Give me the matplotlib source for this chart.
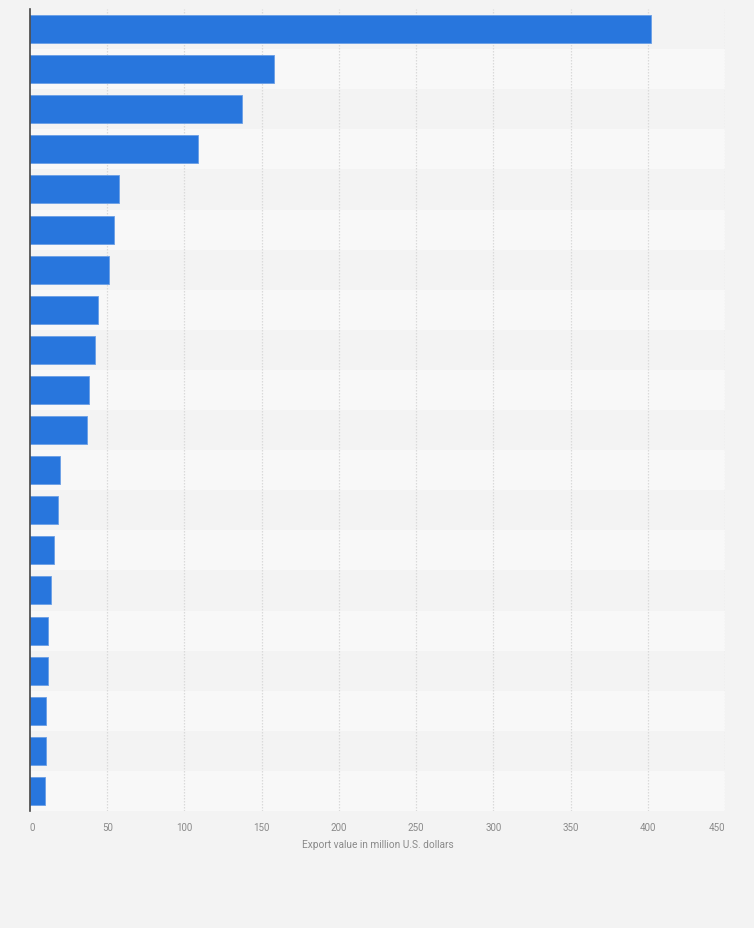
import matplotlib
matplotlib.use("Agg")
import matplotlib.pyplot as plt
import numpy as np

# Data (category labels are not shown in the reference)
ranks = list(range(1, 21))
values = [402.1, 158.3, 137.0, 109.1, 57.5, 54.1, 51.0, 43.9, 41.8, 38.0,
          36.6, 19.2, 18.2, 15.8, 13.8, 11.9, 11.9, 10.6, 10.6, 9.9]
xticks = [0, 50, 100, 150, 200, 250, 300, 350, 400, 450]
xlabel = "Export value in million U.S. dollars"

plt.rcParams['font.family'] = ['Roboto', 'DejaVu Sans']

W, H = 754, 929
fig = plt.figure(figsize=(W / 100, H / 100), dpi=100)
fig.patch.set_facecolor('#f3f3f3')
ax = fig.add_axes([30 / W, 1 - 812 / H, 695 / W, 802 / H])
ax.set_facecolor('#f3f3f3')

n = len(values)
y = np.arange(n)
# alternating row bands
for i in y:
    ax.axhspan(i - 0.5, i + 0.5, color='#f3f3f3' if i % 2 == 0 else '#f8f8f8',
               zorder=0, lw=0)

for xt in xticks[1:]:
    ax.axvline(xt, color='#dadada', lw=0.9, ls=(0, (1.2, 1.2)), zorder=1)

ax.barh(y, values, height=0.7, color='#2876dd', edgecolor='#6a9fe6',
        linewidth=0.6, zorder=2)

ax.set_xlim(0, 450)
ax.set_ylim(n - 0.5, -0.5)
ax.set_yticks(y)
ax.set_yticklabels([])
ax.tick_params(axis='y', length=0)
ax.set_xticks(xticks)
labels = ax.set_xticklabels([str(t) for t in xticks], color='#8a8a8a', fontsize=7)
labels[0].set_ha('left')
labels[-1].set_ha('right')
ax.tick_params(axis='x', length=0, pad=8)
ax.set_xlabel(xlabel, color='#8a8a8a', fontsize=7.3, labelpad=5)

for s in ['top', 'right', 'bottom']:
    ax.spines[s].set_visible(False)
ax.spines['left'].set_color('#444444')
ax.spines['left'].set_linewidth(1.2)
ax.spines['left'].set_zorder(3)

fig.savefig('out.png', dpi=100, facecolor=fig.get_facecolor())
